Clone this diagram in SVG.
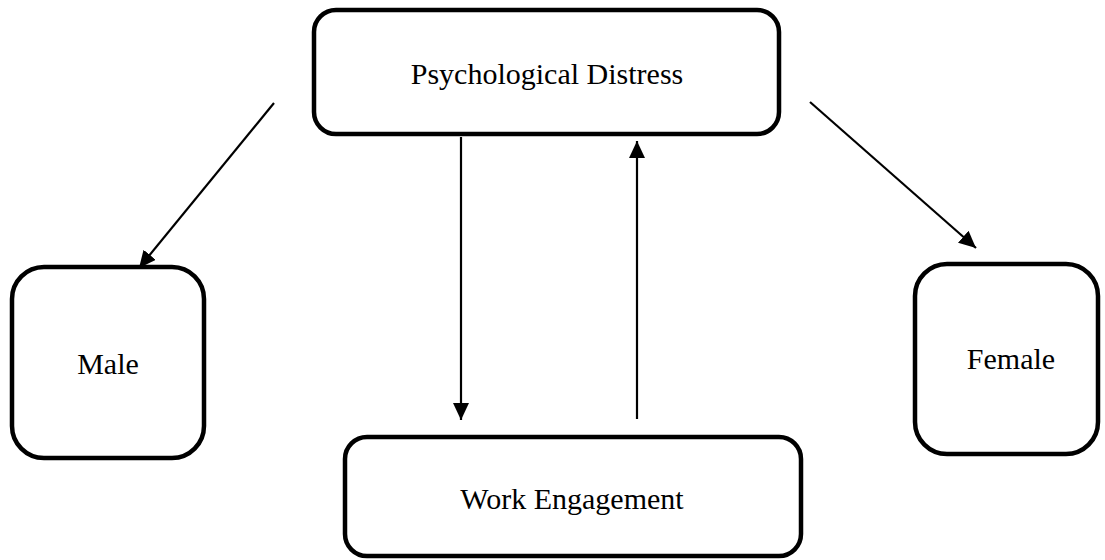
<svg xmlns="http://www.w3.org/2000/svg" width="1105" height="560" viewBox="0 0 1105 560">
<style>
.box{fill:#fff;stroke:#000;stroke-width:4.5}
.lbl{font-family:"Liberation Serif","Times New Roman",serif;font-size:30px;fill:#000;text-anchor:middle}
.conn{stroke:#000;stroke-width:2.2;fill:none;marker-end:url(#ah)}
</style>
<defs>
<marker id="ah" markerUnits="userSpaceOnUse" markerWidth="18" markerHeight="16" refX="17" refY="8" orient="auto">
<path d="M0,0 L17,8 L0,16 Z" fill="#000"/>
</marker>
</defs>
<rect width="1105" height="560" fill="#fff"/>
<g id="connectors">
<line class="conn" x1="274" y1="103" x2="139" y2="268"/>
<line class="conn" x1="810" y1="102" x2="976" y2="248"/>
<line class="conn" x1="461" y1="137" x2="461" y2="420"/>
<line class="conn" x1="637" y1="419" x2="637" y2="141"/>
</g>
<g id="psychological-distress">
<rect class="box" x="314" y="10" width="465" height="124" rx="22"/>
<text class="lbl" x="547" y="84">Psychological Distress</text>
</g>
<g id="male">
<rect class="box" x="12" y="267" width="192" height="191" rx="32"/>
<text class="lbl" x="108" y="374">Male</text>
</g>
<g id="female">
<rect class="box" x="915" y="264" width="183" height="190" rx="32"/>
<text class="lbl" x="1011" y="369">Female</text>
</g>
<g id="work-engagement">
<rect class="box" x="345" y="437" width="456" height="119" rx="22"/>
<text class="lbl" x="572" y="509">Work Engagement</text>
</g>
</svg>
